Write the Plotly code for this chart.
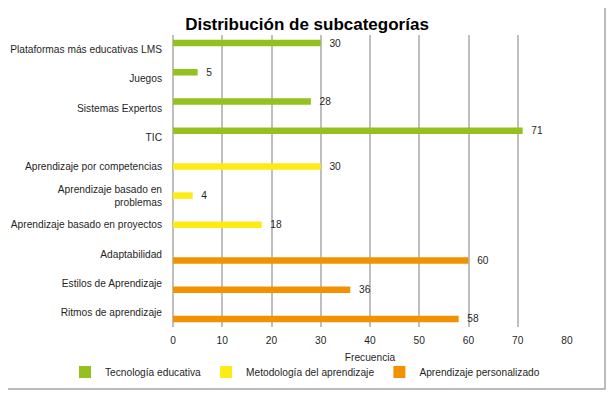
import plotly.graph_objects as go

categories = [
    "Plataformas más educativas LMS",
    "Juegos",
    "Sistemas Expertos",
    "TIC",
    "Aprendizaje por competencias",
    "Aprendizaje basado en<br>problemas",
    "Aprendizaje basado en proyectos",
    "Adaptabilidad",
    "Estilos de Aprendizaje",
    "Ritmos de aprendizaje",
]
series_names = ["Tecnología educativa", "Metodología del aprendizaje", "Aprendizaje personalizado"]
tecnologia = [30, 5, 28, 71, None, None, None, None, None, None]
metodologia = [None, None, None, None, 30, 4, 18, None, None, None]
personalizado = [None, None, None, None, None, None, None, 60, 36, 58]
colors = ["#95C11F", "#FFEB14", "#F39200"]
x_ticks = [0, 10, 20, 30, 40, 50, 60, 70, 80]

font_family = "Liberation Sans, Arial, sans-serif"
text_color = "#1f1f1f"
fs = 10.2

# page body has an 8px default margin; keep the figure inside the window (no scrollbars)
W, H = 598, 382
L, T = 165, 27
PW, PH = 394, 292
R, B = W - L - PW, H - T - PH

fig = go.Figure()
for name, vals, col in zip(series_names, [tecnologia, metodologia, personalizado], colors):
    fig.add_trace(go.Bar(
        y=categories, x=vals, name=name, orientation="h",
        marker=dict(color=col, line=dict(width=0)),
        text=[("" if v is None else str(v)) for v in vals],
        texttemplate="  %{text}",
        textposition="outside", constraintext="none", cliponaxis=False,
        textfont=dict(size=fs, color=text_color, family=font_family),
    ))

fig.update_layout(
    width=W, height=H,
    margin=dict(l=L, r=R, t=T, b=B, autoexpand=False),
    paper_bgcolor="white", plot_bgcolor="white",
    barmode="group", bargap=0.33, bargroupgap=0,
    font=dict(family=font_family, size=fs, color=text_color),
    title=dict(text="<b>Distribución de subcategorías</b>", x=(307 - 8) / W, xanchor="center",
               y=1 - 16 / H, yanchor="middle", yref="container",
               font=dict(size=17, color="black", family=font_family)),
    xaxis=dict(range=[0, 80], tickvals=x_ticks, showgrid=True, gridcolor="#BFBFBF",
               gridwidth=1.5, zeroline=True, zerolinecolor="#BFBFBF", zerolinewidth=1.5,
               showline=False, ticks="", ticklabelstandoff=6, automargin=False,
               title=dict(text="Frecuencia", standoff=8, font=dict(size=fs))),
    yaxis=dict(autorange="reversed", showgrid=False, zeroline=False, showline=False,
               ticks="", ticklabelstandoff=10, automargin=False,
               categoryorder="array", categoryarray=categories),
    legend=dict(orientation="h", xref="paper", x=(57 - L) / PW, xanchor="left",
                yref="paper", y=-(364 - (T + PH)) / PH, yanchor="middle",
                itemwidth=30, font=dict(size=fs), traceorder="normal",
                bgcolor="rgba(0,0,0,0)"),
    showlegend=True,
    shapes=[dict(type="rect", xref="paper", yref="paper",
                 x0=(-5 - L) / PW, x1=(W - 1 - L) / PW,
                 y0=((T + PH) - (H - 1)) / PH, y1=((T + PH) + 5) / PH,
                 line=dict(color="#A6A6A6", width=1.5), layer="below")],
)

fig.write_html("out.html")
